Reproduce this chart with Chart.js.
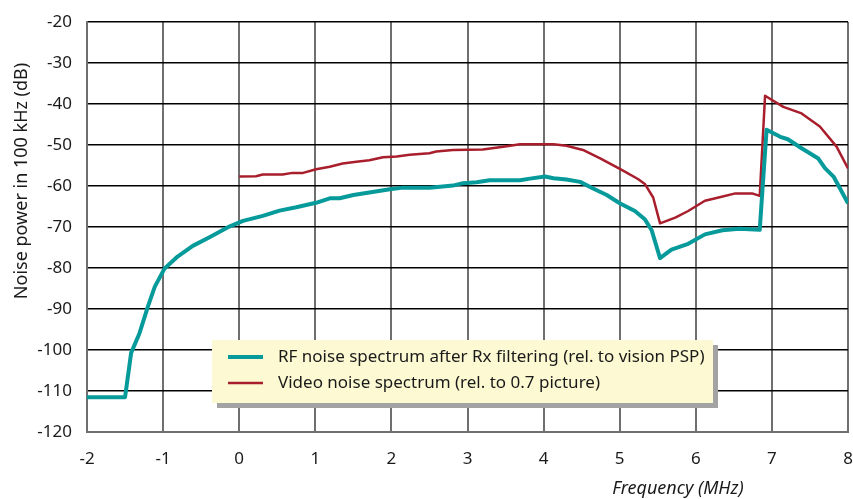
<!DOCTYPE html>
<html><head><meta charset="utf-8">
<script src="https://cdn.jsdelivr.net/npm/chart.js@4/dist/chart.umd.min.js"></script>
<style>html,body{margin:0;padding:0;background:#fff;overflow:hidden}</style>
</head><body>
<canvas id="c" width="853" height="499"></canvas>
<script>
// ---- data ----
const rfLabel = "RF noise spectrum after Rx filtering (rel. to vision PSP)";
const rfFreq  = [-2, -1.5, -1.42, -1.31, -1.2, -1.11, -0.98, -0.81, -0.61, -0.39, -0.13, 0.05, 0.31, 0.53, 0.75, 1.01, 1.19, 1.32, 1.5, 1.71, 1.98, 2.15, 2.5, 2.81, 2.94, 3.12, 3.29, 3.69, 3.82, 4.02, 4.13, 4.3, 4.48, 4.65, 4.83, 5.0, 5.2, 5.33, 5.42, 5.53, 5.68, 5.9, 6.12, 6.35, 6.57, 6.84, 6.93, 7.11, 7.21, 7.39, 7.61, 7.7, 7.81, 8.0];
const rfPower = [-111.5, -111.5, -100.7, -95.9, -89.4, -84.6, -80.1, -77.2, -74.6, -72.5, -69.9, -68.5, -67.3, -66.0, -65.2, -64.1, -63.0, -63.0, -62.2, -61.6, -60.8, -60.4, -60.4, -59.9, -59.3, -59.1, -58.6, -58.6, -58.2, -57.7, -58.1, -58.4, -59.0, -60.6, -62.2, -64.2, -66.1, -68.1, -70.8, -77.6, -75.5, -74.1, -71.8, -70.8, -70.4, -70.7, -46.3, -48.0, -48.6, -50.8, -53.3, -55.7, -57.7, -64.2];

const videoLabel = "Video noise spectrum (rel. to 0.7 picture)";
const videoFreq  = [0, 0.22, 0.31, 0.57, 0.70, 0.84, 1.01, 1.19, 1.36, 1.54, 1.71, 1.89, 2.07, 2.24, 2.5, 2.59, 2.81, 3.2, 3.47, 3.69, 4.13, 4.3, 4.53, 4.75, 5.02, 5.24, 5.33, 5.44, 5.53, 5.73, 5.9, 6.12, 6.3, 6.52, 6.74, 6.84, 6.91, 7.15, 7.39, 7.63, 7.85, 8.0];
const videoPower = [-57.7, -57.6, -57.2, -57.2, -56.8, -56.8, -55.9, -55.3, -54.5, -54.1, -53.7, -53.0, -52.8, -52.4, -52.0, -51.6, -51.2, -51.1, -50.4, -49.8, -49.8, -50.2, -51.3, -53.3, -56.0, -58.3, -59.5, -62.8, -69.1, -67.7, -66.1, -63.6, -62.8, -61.8, -61.8, -62.4, -38.0, -40.7, -42.3, -45.5, -50.4, -55.7];

const xTickValues = [-2, -1, 0, 1, 2, 3, 4, 5, 6, 7, 8];
const yTickValues = [-120, -110, -100, -90, -80, -70, -60, -50, -40, -30, -20];
const xTitle = "Frequency (MHz)";
const yTitle = "Noise power in 100 kHz (dB)";

// ---- styling ----
const FONT = "'Noto Sans', 'DejaVu Sans', sans-serif";
const TEAL = "#069a9b";
const RED = "#a81e2c";
const TXT = "#1a1a1a";

const toPoints = (xs, ys) => xs.map((x, i) => ({x: x, y: ys[i]}));

const overlay = {
  id: 'overlay',
  afterDraw(chart) {
    const ctx = chart.ctx;
    const ca = chart.chartArea;
    ctx.save();
    ctx.fillStyle = TXT;
    ctx.font = "18px " + FONT;
    ctx.textAlign = "center";
    ctx.textBaseline = "middle";
    ctx.translate(22, 181);
    ctx.rotate(-Math.PI / 2);
    ctx.fillText(yTitle, 0, 0);
    ctx.restore();

    ctx.save();
    ctx.fillStyle = TXT;
    ctx.font = "italic 18px " + FONT;
    ctx.textAlign = "center";
    ctx.textBaseline = "middle";
    ctx.fillText(xTitle, ca.right - 170, 489);
    ctx.restore();

    // legend box
    const lx = ca.left + 125, ly = 340, lw = 501, lh = 63;
    ctx.save();
    ctx.fillStyle = "#a3a3a3";
    ctx.fillRect(lx + 5, ly + 5, lw, lh);
    ctx.fillStyle = "#fdf9d2";
    ctx.fillRect(lx, ly, lw, lh);
    const ds = chart.data.datasets;
    const rows = [ly + 17, ly + 43];
    ds.forEach((d, i) => {
      ctx.strokeStyle = d.borderColor;
      ctx.lineWidth = d.borderWidth;
      ctx.beginPath();
      ctx.moveTo(lx + 16, rows[i]);
      ctx.lineTo(lx + 51, rows[i]);
      ctx.stroke();
      ctx.fillStyle = TXT;
      ctx.font = "17px " + FONT;
      ctx.textAlign = "left";
      ctx.textBaseline = "middle";
      ctx.fillText(d.label, lx + 66, rows[i]);
    });
    ctx.restore();
  }
};

new Chart(document.getElementById('c'), {
  type: 'line',
  data: {
    datasets: [
      { label: rfLabel, data: toPoints(rfFreq, rfPower), borderColor: TEAL, borderWidth: 4, pointRadius: 0, tension: 0, fill: false, borderJoinStyle: 'round' },
      { label: videoLabel, data: toPoints(videoFreq, videoPower), borderColor: RED, borderWidth: 2.5, pointRadius: 0, tension: 0, fill: false, borderJoinStyle: 'round' }
    ]
  },
  options: {
    responsive: false,
    animation: false,
    events: [],
    layout: { padding: { left: 0, right: 5, top: 22, bottom: 0 } },
    plugins: { legend: { display: false }, tooltip: { enabled: false } },
    scales: {
      x: {
        type: 'linear', min: -2, max: 8,
        afterBuildTicks: (s) => { s.ticks = xTickValues.map(v => ({value: v})); },
        afterFit: (s) => { s.height = 67; s.paddingLeft = 0; s.paddingRight = 0; },
        ticks: { padding: 17, color: TXT, font: { family: FONT, size: 17 }, maxRotation: 0 },
        grid: { color: '#6f6f6f', lineWidth: 2, drawTicks: false },
        border: { color: '#6f6f6f', width: 2 }
      },
      y: {
        type: 'linear', min: -120, max: -20,
        afterBuildTicks: (s) => { s.ticks = yTickValues.map(v => ({value: v})); },
        afterFit: (s) => { s.width = 87; s.paddingTop = 0; s.paddingBottom = 0; },
        ticks: { padding: 15, color: TXT, font: { family: FONT, size: 17 } },
        grid: { color: '#000', lineWidth: 1.5, drawTicks: false },
        border: { color: '#6f6f6f', width: 2 }
      }
    }
  },
  plugins: [overlay]
});
</script>
</body></html>
